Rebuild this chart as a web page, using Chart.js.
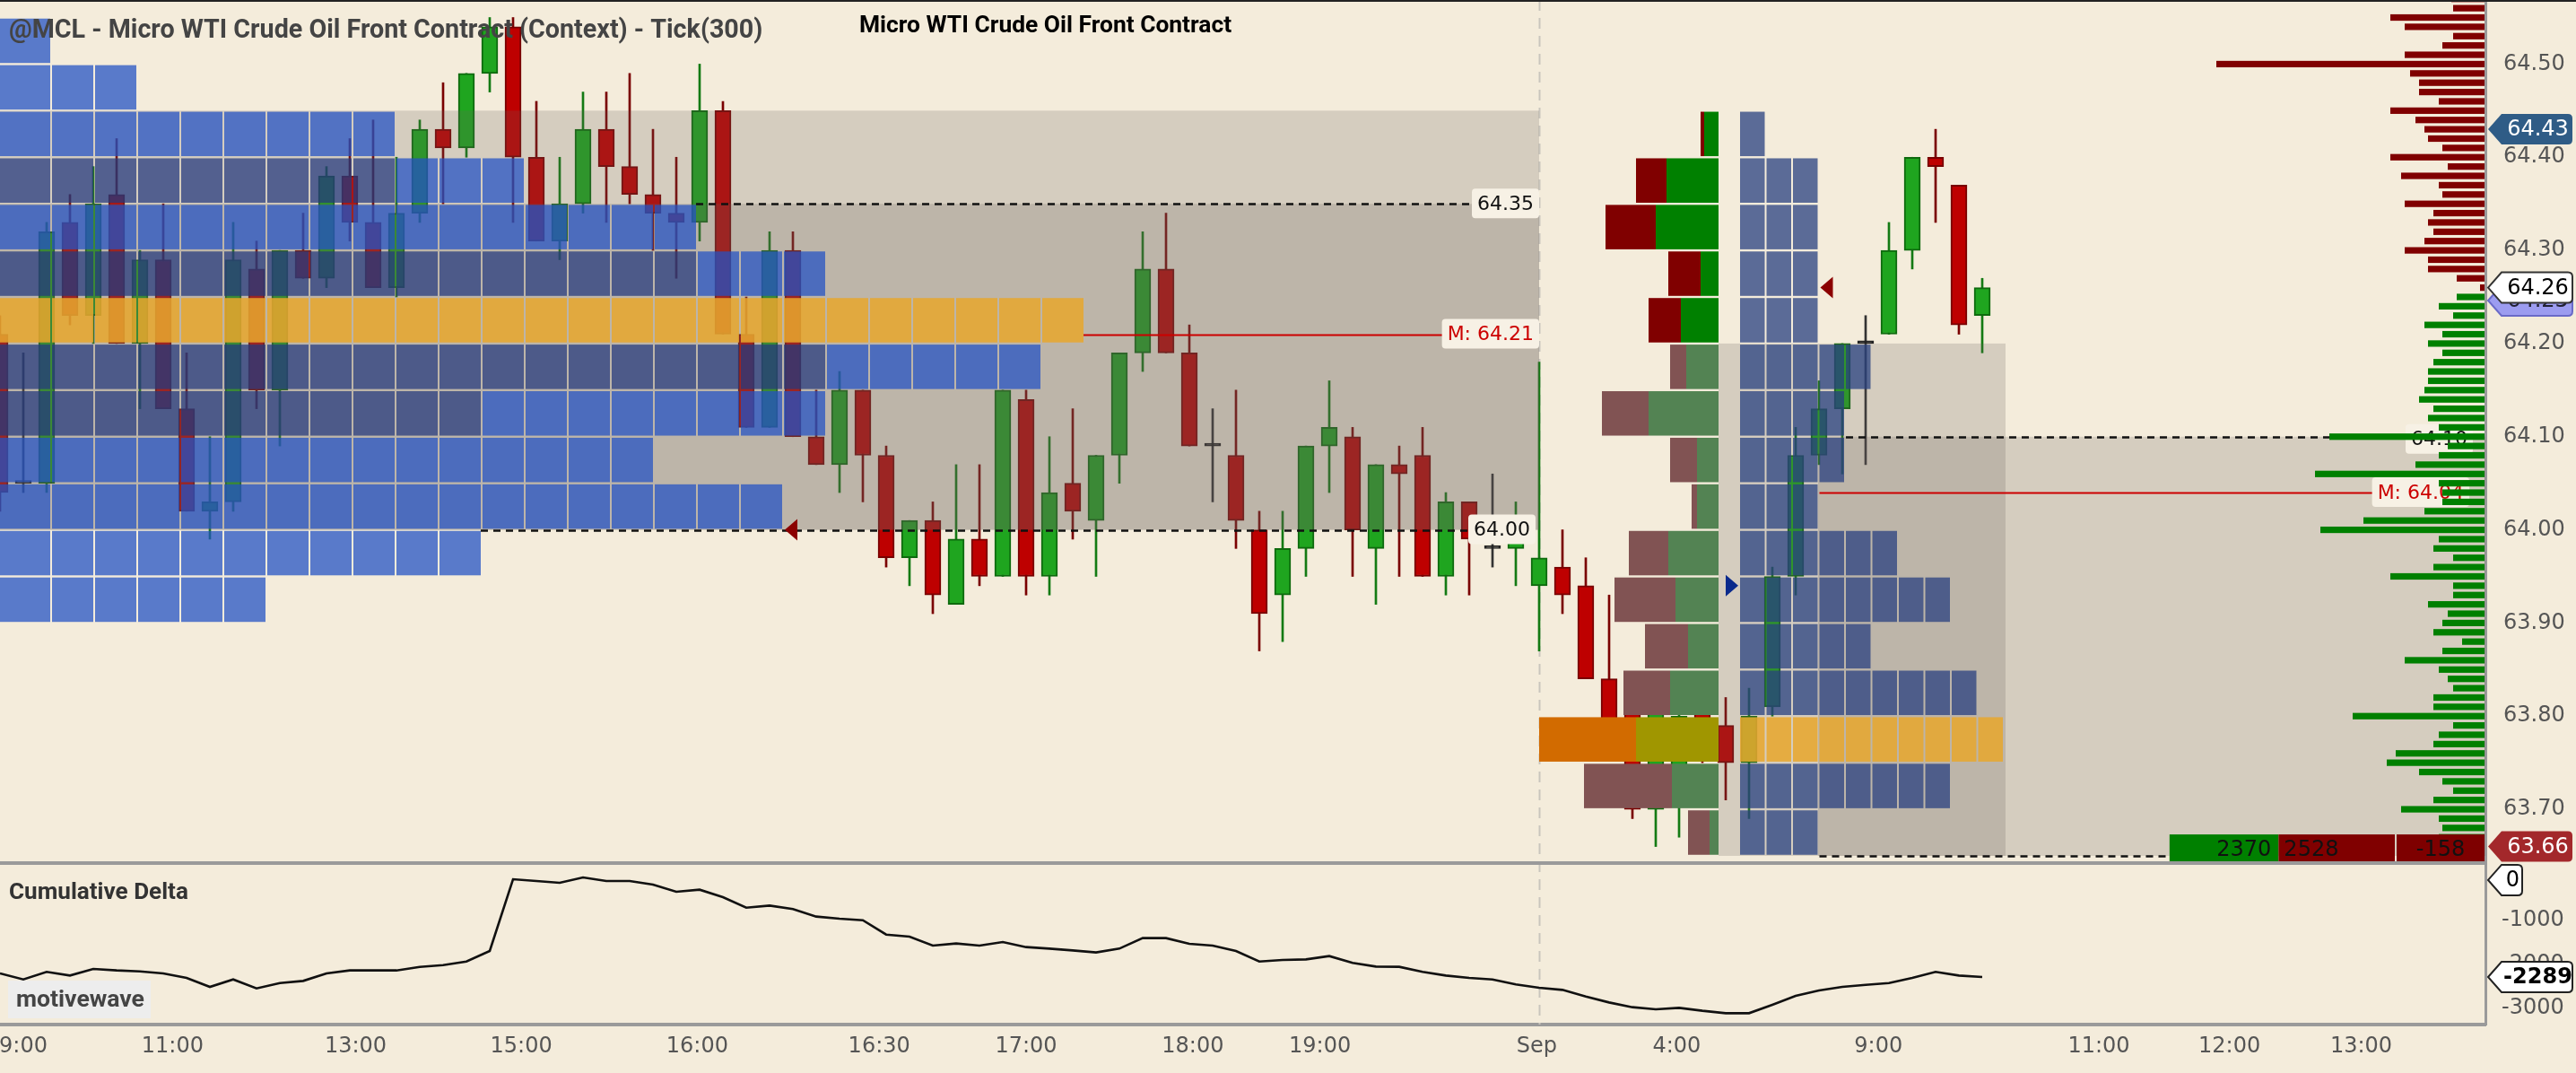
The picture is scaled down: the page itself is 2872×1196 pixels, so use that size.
<!DOCTYPE html>
<html><head><meta charset="utf-8">
<script src="https://cdn.jsdelivr.net/npm/chart.js@4/dist/chart.umd.min.js"></script>
<style>html,body{margin:0;padding:0;background:#F4ECDB;overflow:hidden}canvas{display:block}</style>
</head><body>
<canvas id="c" width="2872" height="1196" style="width:2872px;height:1196px"></canvas>
<script>
// ---------------- DATA ----------------
const opens = [64.21,64.05,64.05,64.33,64.23,64.36,64.20,64.29,64.13,64.02, 64.03,64.28,64.15,64.30,64.27,64.38,64.33,64.26,64.34,64.43,
  64.41,64.49,64.54,64.40,64.31,64.35,64.43,64.39,64.36,64.34, 64.33,64.45,64.21,64.11,64.30,64.10,64.07,64.15,64.08,63.97,
  64.01,63.92,63.99,63.95,64.14,63.95,64.05,64.01,64.08,64.19, 64.28,64.19,64.09,64.08,64.00,63.93,63.98,64.09,64.10,63.98,
  64.07,64.08,63.95,64.03,63.98,63.98,63.94,63.96,63.94,63.84, 63.82,63.70,63.74,63.81,63.79,63.75,63.81,63.95,64.08,64.13,
  64.20,64.21,64.30,64.40,64.37,64.23];
const highs = [64.23,64.19,64.33,64.36,64.39,64.42,64.30,64.35,64.19,64.10, 64.33,64.31,64.30,64.34,64.39,64.42,64.44,64.40,64.44,64.48,
  64.49,64.55,64.55,64.46,64.40,64.47,64.47,64.49,64.43,64.40, 64.50,64.46,64.25,64.32,64.32,64.15,64.17,64.15,64.09,64.01,
  64.03,64.07,64.07,64.15,64.15,64.10,64.13,64.08,64.19,64.32, 64.34,64.22,64.13,64.15,64.02,64.02,64.09,64.16,64.11,64.07,
  64.09,64.11,64.04,64.03,64.06,64.03,64.18,64.00,63.97,63.93, 63.84,63.82,63.82,63.83,63.82,63.83,63.96,64.11,64.16,64.20,
  64.23,64.33,64.40,64.43,64.37,64.27];
const lows = [64.02,64.04,64.04,64.22,64.20,64.20,64.13,64.13,64.02,63.99, 64.02,64.13,64.09,64.27,64.26,64.31,64.26,64.25,64.33,64.35,
  64.40,64.47,64.33,64.31,64.29,64.34,64.33,64.35,64.30,64.27, 64.31,64.21,64.11,64.11,64.10,64.07,64.04,64.03,63.96,63.94,
  63.91,63.92,63.94,63.95,63.93,63.93,63.99,63.95,64.05,64.17, 64.19,64.09,64.03,63.98,63.87,63.88,63.95,64.04,63.95,63.92,
  63.95,63.95,63.93,63.93,63.96,63.94,63.87,63.91,63.84,63.77, 63.69,63.66,63.67,63.75,63.71,63.69,63.80,63.93,64.07,64.06,
  64.07,64.21,64.28,64.33,64.21,64.19];
const closes = [64.04,64.05,64.32,64.23,64.35,64.20,64.29,64.13,64.02,64.03, 64.29,64.15,64.30,64.27,64.38,64.33,64.26,64.34,64.43,64.41,
  64.49,64.54,64.40,64.31,64.35,64.43,64.39,64.36,64.34,64.33, 64.45,64.21,64.11,64.30,64.10,64.07,64.15,64.08,63.97,64.01,
  63.93,63.99,63.95,64.15,63.95,64.04,64.02,64.08,64.19,64.28, 64.19,64.09,64.09,64.01,63.91,63.98,64.09,64.11,64.00,64.07,
  64.06,63.95,64.03,63.99,63.98,63.99,63.97,63.93,63.84,63.78, 63.70,63.81,63.80,63.77,63.75,63.80,63.95,64.08,64.13,64.20,
  64.20,64.30,64.40,64.39,64.22,64.26];
const cumDelta = [-2208,-2345,-2173,-2256,-2105,-2139,-2160,-2208,-2310,-2516, -2345,-2550,-2427,-2379,-2208,-2139,-2139,-2139,-2057,-2016,
  -1934,-1694,-52,-93,-134,-10,-93,-93,-175,-339, -291,-462,-702,-654,-736,-907,-955,-989,-1318,-1366,
  -1571,-1523,-1571,-1489,-1605,-1640,-1681,-1728,-1640,-1400, -1400,-1530,-1571,-1694,-1934,-1900,-1886,-1811,-1968,-2050,
  -2057,-2173,-2256,-2310,-2345,-2461,-2536,-2584,-2735,-2872, -2981,-3029,-2995,-3063,-3118,-3118,-2926,-2721,-2598,-2516,
  -2468,-2427,-2310,-2173,-2256,-2289];

const timeTickPos = [1.0, 7.4, 15.25, 22.35, 29.9, 37.7, 44.0, 51.15, 56.6, 65.9, 71.9, 80.55, 90.0, 95.6, 101.25];
const timeTickLabels = ['9:00','11:00','13:00','15:00','16:00','16:30','17:00','18:00','19:00','Sep','4:00','9:00','11:00','12:00','13:00'];
const priceTicks = [63.70,63.80,63.90,64.00,64.10,64.20,64.30,64.40,64.50];
const deltaTicks = [-1000,-2000,-3000];

// session 1 (context) profile: cells per 0.05 row, from 64.55 downward
const prof1Top = 64.55;
const prof1Cells = [1,3,9,12,16,19,25,24,19,15,18,11,6];
const prof1Dark  = [0,0,0,9,0,16,0,19,11,0,0,0,0];
const prof1Poc = 6;
const s1High = 64.45, s1VAH = 64.35, s1VAL = 64.00, s1Median = 64.21;

// session 2 profile: rows from 64.45 downward
const prof2Top = 64.45;
const prof2Cells = [1,3,3,3,3,5,4,4,3,6,8,5,9,10,8,3];
const prof2Poc = 13;
const delta2Sell = [4,34,56,36,36,18,52,30,6,44,68,48,52,108,98,24];
const delta2Buy  = [16,58,70,20,42,36,78,24,24,56,48,34,54,92,52,10];
const s2RangeHigh = 64.20, s2Level = 64.10, s2Low = 63.65, s2Median = 64.04;

// right-side volume by price, one value per cent from 64.57 downward
const volTop = 64.57;
const volByPrice = [38,36,106,90,36,48,90,300,84,74,74,52,106,78,68,64,48,106,42,94,52,48,90,58,64,58,68,90,64,64,32,6,
  32,52,36,68,48,64,48,58,64,64,68,74,58,64,52,174,42,52,78,190,52,48,48,68,136,184,52,58,36,58,106,36,36,64,42,48,58,26,48,90,
  52,42,36,58,58,148,36,52,58,100,110,74,48,36,58,94,52,48,52];
const lastPrice = 64.26, bidPrice = 64.25, sessHighMark = 64.43, lowPrice = 63.66;
const buyTotal = 2370, sellTotal = 2528, deltaTotal = -158;
const lastDelta = -2289;

// --------------- LAYOUT CONSTANTS ---------------
const W = 2872, H = 1196, AXIS_W = 101, XAX_H = 54;
const XMAX = (W - AXIS_W) / 26;
const Y_MAX = 64.5688, Y_MIN = 63.4689;
const PANE_SPLIT = 63.6423;
const YD_MAX = 20072, YD_MIN = -3378;
const SESSION2_START = 66;
const CELL1_R0 = 56/26, CELL1_W = 48/26;
const CELL2_X0 = 1940/26, CELL2_W = 29.5/26;
const DELTA2_R = 1916/26;
const PX = 1/26;
const VOL_UNIT = 1/26;
const BOX = 'rgba(105,95,90,0.22)';
const FONT = '"DejaVu Sans", sans-serif';

const dir = i => closes[i] > opens[i] ? 1 : (closes[i] < opens[i] ? -1 : 0);
const bodyFill = opens.map((o,i)=> dir(i)>0 ? '#1FA51F' : dir(i)<0 ? '#BE0000' : '#222222');
const bodyLine = opens.map((o,i)=> dir(i)>0 ? '#0E6A0E' : dir(i)<0 ? '#780000' : '#222222');
const wickCol  = opens.map((o,i)=> dir(i)>0 ? '#137A13' : dir(i)<0 ? '#7A0000' : '#333333');

function roundRect(ctx,x,y,w,h,r){ctx.beginPath();ctx.moveTo(x+r,y);ctx.lineTo(x+w-r,y);ctx.quadraticCurveTo(x+w,y,x+w,y+r);ctx.lineTo(x+w,y+h-r);ctx.quadraticCurveTo(x+w,y+h,x+w-r,y+h);ctx.lineTo(x+r,y+h);ctx.quadraticCurveTo(x,y+h,x,y+h-r);ctx.lineTo(x,y+r);ctx.quadraticCurveTo(x,y,x+r,y);ctx.closePath();}

function badge(ctx, cy, text, fill, stroke, tcol, bold, x0, x1){
  const h = 34, tip = x0, bx = x0 + 15;
  ctx.beginPath(); ctx.moveTo(tip, cy); ctx.lineTo(bx, cy-h/2); ctx.lineTo(x1-5, cy-h/2);
  ctx.quadraticCurveTo(x1, cy-h/2, x1, cy-h/2+5); ctx.lineTo(x1, cy+h/2-5);
  ctx.quadraticCurveTo(x1, cy+h/2, x1-5, cy+h/2); ctx.lineTo(bx, cy+h/2); ctx.closePath();
  ctx.fillStyle = fill; ctx.fill();
  if (stroke){ ctx.strokeStyle = stroke; ctx.lineWidth = 2; ctx.stroke(); }
  ctx.fillStyle = tcol; ctx.font = (bold?'bold ':'') + '24px ' + FONT;
  ctx.textAlign = 'center'; ctx.textBaseline = 'middle';
  ctx.fillText(text, (bx + x1)/2 + 1, cy + 1);
}

function levelLabel(ctx, xr, cy, text, color){
  ctx.font = '22px ' + FONT;
  const w = ctx.measureText(text).width + 12;
  roundRect(ctx, xr - w, cy - 17, w, 33, 4);
  ctx.fillStyle = '#F7F1E5'; ctx.fill();
  ctx.fillStyle = color; ctx.textAlign = 'right'; ctx.textBaseline = 'middle';
  ctx.fillText(text, xr - 6, cy + 1);
}

// draw text scaled to a target width (matches the reference's title sizes)
function fitText(ctx, text, x, y, weight, family, baseSize, targetW, color){
  ctx.font = weight + ' ' + baseSize + 'px ' + family;
  const w = ctx.measureText(text).width;
  const size = Math.max(10, Math.min(40, baseSize * targetW / w));
  ctx.font = weight + ' ' + size.toFixed(1) + 'px ' + family;
  ctx.fillStyle = color; ctx.fillText(text, x, y);
}

const overlay = {
  id: 'overlay',
  beforeDatasetsDraw(chart){
    const {ctx, chartArea:a, scales:{x}} = chart;
    ctx.save();
    ctx.strokeStyle = '#C9C5BD'; ctx.lineWidth = 2; ctx.setLineDash([12,8]);
    const sx = Math.round(x.getPixelForValue(SESSION2_START)) + 0.5;
    ctx.beginPath(); ctx.moveTo(sx, a.top); ctx.lineTo(sx, a.bottom); ctx.stroke();
    ctx.restore();
  },
  afterDatasetsDraw(chart){
    const {ctx, chartArea:a, scales:{x, y}} = chart;
    const X = v => x.getPixelForValue(v), Y = p => y.getPixelForValue(p);
    const splitY = Y(PANE_SPLIT);
    const rect = (x1,y1,x2,y2,c) => { ctx.fillStyle = c; ctx.fillRect(x1, y1, x2-x1, y2-y1); };
    ctx.save();
    ctx.beginPath(); ctx.rect(a.left, a.top, a.right - a.left, splitY - a.top); ctx.clip();

    rect(X(0), Y(s1High), X(SESSION2_START), Y(s1VAL), BOX);
    rect(X(0), Y(s1VAH), X(SESSION2_START), Y(s1VAL), BOX);
    rect(X(DELTA2_R), Y(s2RangeHigh), X(86), Y(s2Low), BOX);
    rect(X(DELTA2_R + 111*PX), Y(s2Level), X(XMAX), Y(s2Low), BOX);

    const row1End = r => CELL1_R0 + (prof1Cells[r]-1)*CELL1_W;
    prof1Cells.forEach((n, r) => {
      const top = prof1Top - r*0.05, bot = top - 0.05;
      const y1 = Y(top) + 1.2, y2 = Y(bot) - 1.2;
      for (let k = 0; k < n; k++){
        const xr = X(CELL1_R0 + k*CELL1_W);
        const xl = k === 0 ? -2 : X(CELL1_R0 + (k-1)*CELL1_W) + 2;
        let c = 'rgba(35,82,195,0.74)';
        if (r === prof1Poc) c = 'rgba(232,166,45,0.86)';
        else if (k < prof1Dark[r]) c = 'rgba(36,58,125,0.74)';
        rect(xl, y1, xr, y2, c);
      }
    });

    delta2Sell.forEach((s, r) => {
      const top = prof2Top - r*0.05, bot = top - 0.05;
      const y1 = Y(top) + 1.2, y2 = Y(bot) - 1.2;
      const inRange = top <= s2RangeHigh + 1e-6;
      const b = delta2Buy[r];
      let cs = '#800000', cb = '#008000';
      if (inRange){ cs = '#815353'; cb = '#538353'; }
      if (r === prof2Poc){ cs = '#D26B00'; cb = '#A09600'; }
      const xR = X(DELTA2_R), xM = X(DELTA2_R - b*VOL_UNIT), xL = X(DELTA2_R - (b+s)*VOL_UNIT);
      rect(xL, y1, xM, y2, cs); rect(xM, y1, xR, y2, cb);
    });

    const row2End = r => CELL2_X0 + prof2Cells[r]*CELL2_W;
    prof2Cells.forEach((n, r) => {
      const top = prof2Top - r*0.05, bot = top - 0.05;
      const y1 = Y(top) + 1.2, y2 = Y(bot) - 1.2;
      for (let k = 0; k < n; k++){
        const xl = X(CELL2_X0 + k*CELL2_W), xr = X(CELL2_X0 + (k+1)*CELL2_W) - 2;
        const c = r === prof2Poc ? 'rgba(232,166,45,0.86)' : 'rgba(40,64,128,0.75)';
        rect(xl, y1, xr, y2, c);
      }
    });

    const hline = (x1, x2, p, color, w, dash) => {
      ctx.save(); ctx.strokeStyle = color; ctx.lineWidth = w; ctx.setLineDash(dash || []);
      const yy = Math.round(Y(p)) + 0.5;
      ctx.beginPath(); ctx.moveTo(x1, yy); ctx.lineTo(x2, yy); ctx.stroke(); ctx.restore();
    };
    const rowIdx1 = p => Math.floor((prof1Top - p)/0.05 + 1e-6);
    const rowIdx2 = p => Math.floor((prof2Top - p)/0.05 + 1e-6);
    const s1R = X(SESSION2_START);
    hline(X(row1End(rowIdx1(s1VAH - 0.001))), s1R - 70, s1VAH, '#111', 2.5, [8,6]);
    hline(X(row1End(rowIdx1(s1VAL - 0.001))), s1R - 70, s1VAL, '#111', 2.5, [8,6]);
    hline(X(row1End(rowIdx1(s1Median))), s1R - 90, s1Median, '#CC0000', 2);
    hline(X(row2End(rowIdx2(s2Level - 0.001))), X(XMAX), s2Level, '#111', 2.5, [8,6]);
    hline(X(row2End(rowIdx2(s2Median))), X(XMAX) - 110, s2Median, '#CC0000', 2);
    hline(X(row2End(rowIdx2(s2Low + 0.001))), X(XMAX) - 350, s2Low, '#111', 2.5, [8,6]);

    const tri = (xt, p, dirn, color) => {
      const yy = Y(p); ctx.fillStyle = color; ctx.beginPath();
      ctx.moveTo(xt, yy); ctx.lineTo(xt + dirn*14, yy - 12); ctx.lineTo(xt + dirn*14, yy + 12); ctx.closePath(); ctx.fill();
    };
    tri(X(row1End(rowIdx1(s1VAL + 0.001))) + 3, s1VAL, 1, '#8B0000');
    tri(X(row2End(rowIdx2(lastPrice))) + 1, lastPrice, 1, '#8B0000');
    tri(X(CELL2_X0) - 2, 63.94, -1, '#0A2A8C');

    levelLabel(ctx, s1R, Y(s1VAH), s1VAH.toFixed(2), '#111');
    levelLabel(ctx, s1R, Y(s1Median), 'M: ' + s1Median.toFixed(2), '#CC0000');
    levelLabel(ctx, s1R - 4, Y(s1VAL), s1VAL.toFixed(2), '#111');
    levelLabel(ctx, X(XMAX) - 14, Y(s2Level) + 3, s2Level.toFixed(2), '#111');
    levelLabel(ctx, X(XMAX) - 18, Y(s2Median), 'M: ' + s2Median.toFixed(2), '#CC0000');

    volByPrice.forEach((v, i) => {
      const p = volTop - i*0.01;
      const yc = Y(p);
      const c = p >= lastPrice - 0.005 ? '#800000' : '#008000';
      rect(X(XMAX - v*VOL_UNIT), yc - 3.6, X(XMAX) - 1, yc + 3.6, c);
    });

    const tTop = Y(63.673), tBot = splitY;
    const xEnd = X(XMAX) - 1, xD = xEnd - 98, xS = xD - 2 - sellTotal/19.5, xB = xS - buyTotal/19.5;
    rect(xB, tTop, xS, tBot, '#008000');
    rect(xS, tTop, xD - 2, tBot, '#800000');
    rect(xD, tTop, xEnd, tBot, '#7E0000');
    ctx.font = '24px ' + FONT; ctx.fillStyle = '#111'; ctx.textBaseline = 'middle';
    const ty = (tTop + tBot)/2 + 2;
    ctx.textAlign = 'right'; ctx.fillText(String(buyTotal), xS - 8, ty);
    ctx.textAlign = 'left'; ctx.fillText(String(sellTotal), xS + 6, ty);
    ctx.textAlign = 'center'; ctx.fillText(String(deltaTotal), (xD + xEnd)/2, ty);
    ctx.restore();
  },
  afterDraw(chart){
    const {ctx, chartArea:a, scales:{y, yd}} = chart;
    const Y = p => y.getPixelForValue(p), YD = v => yd.getPixelForValue(v);
    const splitY = Y(PANE_SPLIT);
    ctx.save();
    ctx.strokeStyle = '#9A9A9A'; ctx.lineWidth = 4;
    ctx.beginPath(); ctx.moveTo(0, splitY); ctx.lineTo(a.right, splitY); ctx.stroke();
    ctx.strokeStyle = '#222'; ctx.lineWidth = 2;
    ctx.beginPath(); ctx.moveTo(0, 1); ctx.lineTo(W, 1); ctx.stroke();

    ctx.font = '24px ' + FONT; ctx.fillStyle = '#555'; ctx.textAlign = 'left'; ctx.textBaseline = 'middle';
    deltaTicks.forEach(v => ctx.fillText(String(v), a.right + 18, YD(v)));

    const bx0 = a.right + 3, bx1 = W - 4;
    badge(ctx, Y(sessHighMark), sessHighMark.toFixed(2), '#2F5C86', null, '#fff', false, bx0, bx1);
    badge(ctx, Y(bidPrice) + 4, bidPrice.toFixed(2), '#9C9CF0', '#6A6AC8', '#223', false, bx0, bx1);
    badge(ctx, Y(lastPrice), lastPrice.toFixed(2), '#FFFFFF', '#333', '#000', false, bx0, bx1);
    badge(ctx, Math.min(Y(lowPrice), splitY - 18), lowPrice.toFixed(2), '#A3282B', null, '#fff', false, bx0, bx1);
    badge(ctx, Math.max(YD(0), splitY + 19), '0', '#FFFFFF', '#222', '#000', false, bx0, bx0 + 38);
    badge(ctx, YD(lastDelta), String(lastDelta), '#FFFFFF', '#222', '#000', true, bx0, bx1);

    ctx.textBaseline = 'middle'; ctx.textAlign = 'left';
    fitText(ctx, '@MCL - Micro WTI Crude Oil Front Contract (Context) - Tick(300)', 10, 35, 'bold', 'Roboto, sans-serif', 26, 842, '#444');
    fitText(ctx, 'Micro WTI Crude Oil Front Contract', 958, 29, 'bold', 'Roboto, sans-serif', 25, 416, '#000');
    fitText(ctx, 'Cumulative Delta', 10, 995, 'bold', 'Roboto, sans-serif', 23, 200, '#333');
    ctx.fillStyle = '#EDEDED'; ctx.fillRect(9, 1093, 159, 42);
    fitText(ctx, 'motivewave', 18, 1115, 'bold', 'Roboto, sans-serif', 23, 143, '#444');
    ctx.restore();
  }
};

const zeroPad = s => { s.paddingLeft = 0; s.paddingRight = 0; s.paddingTop = 0; s.paddingBottom = 0; };

new Chart(document.getElementById('c').getContext('2d'), {
  type: 'bar',
  data: { datasets: [
    { type: 'line', data: cumDelta.map((v,i)=>({x:i, y:v})), xAxisID: 'x', yAxisID: 'yd',
      borderColor: '#111', borderWidth: 2.6, pointRadius: 0, tension: 0, order: 0 },
    { type: 'bar', data: opens.map((o,i)=>({x:i, y:[o, closes[i]]})), xAxisID: 'x', yAxisID: 'y',
      backgroundColor: bodyFill, borderColor: bodyLine, borderWidth: 2, borderSkipped: false,
      barThickness: 18, grouped: false, minBarLength: 3, order: 1 },
    { type: 'bar', data: highs.map((h,i)=>({x:i, y:[lows[i], h]})), xAxisID: 'x', yAxisID: 'y',
      backgroundColor: wickCol, borderWidth: 0, barThickness: 2, grouped: false, order: 2 }
  ]},
  options: {
    responsive: false, animation: false, devicePixelRatio: 1, events: [],
    layout: { padding: 0 },
    plugins: { legend: { display: false }, tooltip: { enabled: false }, title: { display: false } },
    scales: {
      x: { type: 'linear', min: 0, max: XMAX, offset: false, position: 'bottom',
        grid: { display: false, drawTicks: false }, border: { display: true, color: '#9A9A9A', width: 4 },
        afterBuildTicks: s => { s.ticks = timeTickPos.map(v => ({ value: v })); },
        afterFit: s => { s.height = XAX_H; zeroPad(s); },
        ticks: { autoSkip: false, maxRotation: 0, minRotation: 0, padding: 10, color: '#555',
          font: { family: 'DejaVu Sans', size: 24 }, callback: (v, i) => timeTickLabels[i] } },
      y: { type: 'linear', position: 'right', min: Y_MIN, max: Y_MAX, beginAtZero: false,
        grid: { display: false, drawTicks: false }, border: { display: true, color: '#9A9A9A', width: 3 },
        afterBuildTicks: s => { s.ticks = priceTicks.map(v => ({ value: v })); },
        afterFit: s => { s.width = AXIS_W; zeroPad(s); },
        ticks: { padding: 20, color: '#555', font: { family: 'DejaVu Sans', size: 24 }, callback: v => Number(v).toFixed(2) } },
      yd: { type: 'linear', display: false, min: YD_MIN, max: YD_MAX, beginAtZero: false, afterFit: zeroPad }
    }
  },
  plugins: [overlay]
});
</script>
</body></html>
